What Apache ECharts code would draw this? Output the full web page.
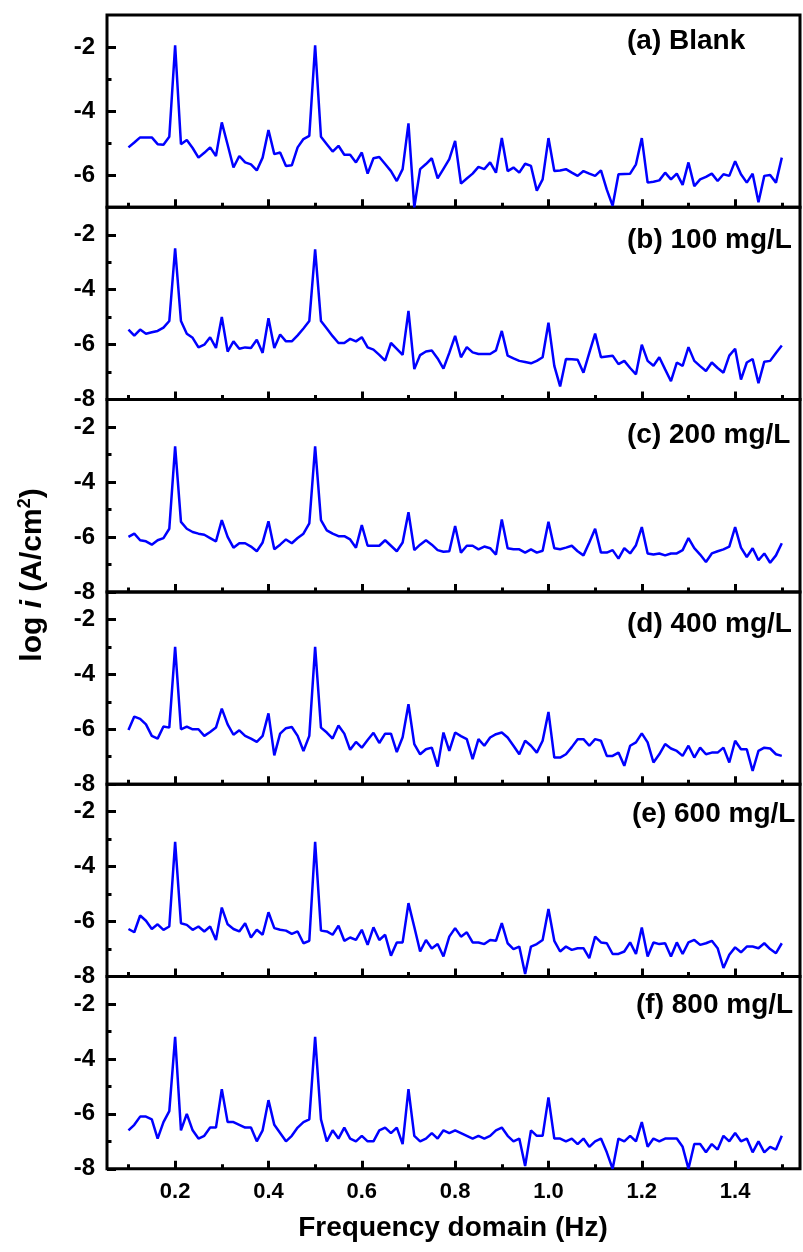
<!DOCTYPE html>
<html>
<head>
<meta charset="utf-8">
<script src="https://cdn.jsdelivr.net/npm/echarts@6/dist/echarts.min.js"></script>
<style>
  html, body { margin: 0; padding: 0; background: #fff; }
  #main { width: 803px; height: 1252px; }
</style>
</head>
<body>
<div id="main"></div>
<script>
// frequency grid of the spectra (Hz)
const freqStart = 0.1;
const freqStep = 0.0125;

// log i values, one array per panel (0.1 ... 1.5 Hz)
const valsBlank = [-5.13,-4.98,-4.82,-4.82,-4.82,-5.03,-5.05,-4.80,-1.95,-5.03,-4.90,-5.15,-5.45,-5.30,-5.13,-5.40,-4.35,-5.05,-5.76,-5.40,-5.60,-5.66,-5.85,-5.45,-4.59,-5.34,-5.29,-5.71,-5.69,-5.13,-4.87,-4.77,-1.95,-4.80,-5.03,-5.26,-5.08,-5.36,-5.36,-5.60,-5.29,-5.95,-5.47,-5.43,-5.65,-5.87,-6.18,-5.81,-4.38,-7.00,-5.81,-5.65,-5.47,-6.10,-5.80,-5.50,-4.93,-6.26,-6.10,-5.95,-5.74,-5.81,-5.60,-5.92,-4.84,-5.87,-5.76,-5.92,-5.64,-5.71,-6.48,-6.13,-4.84,-5.87,-5.85,-5.81,-5.92,-6.02,-5.87,-5.95,-6.02,-5.85,-6.45,-6.95,-5.97,-5.96,-5.95,-5.66,-4.84,-6.23,-6.20,-6.16,-5.92,-6.13,-5.95,-6.30,-5.60,-6.34,-6.13,-6.05,-5.95,-6.18,-5.97,-6.02,-5.56,-5.97,-6.23,-5.95,-6.84,-6.02,-5.99,-6.23,-5.45];
const vals100 = [-5.45,-5.67,-5.45,-5.60,-5.55,-5.50,-5.38,-5.14,-2.49,-5.14,-5.60,-5.75,-6.10,-6.00,-5.73,-6.12,-4.99,-6.25,-5.88,-6.15,-6.10,-6.12,-5.82,-6.30,-5.04,-6.12,-5.63,-5.88,-5.88,-5.66,-5.41,-5.14,-2.53,-5.14,-5.41,-5.69,-5.94,-5.94,-5.79,-5.88,-5.73,-6.10,-6.18,-6.37,-6.58,-5.94,-6.15,-6.37,-4.77,-6.89,-6.38,-6.25,-6.21,-6.50,-6.87,-6.30,-5.68,-6.46,-6.09,-6.28,-6.34,-6.34,-6.34,-6.21,-5.50,-6.40,-6.50,-6.59,-6.63,-6.68,-6.59,-6.46,-5.20,-6.77,-7.52,-6.52,-6.53,-6.55,-7.02,-6.30,-5.60,-6.46,-6.43,-6.40,-6.71,-6.59,-6.85,-7.08,-6.00,-6.59,-6.77,-6.46,-6.90,-7.33,-6.65,-6.77,-6.09,-6.59,-6.78,-6.96,-6.65,-6.85,-7.02,-6.40,-6.15,-7.27,-6.65,-6.52,-7.40,-6.62,-6.59,-6.30,-6.03];
const vals200 = [-6.00,-5.88,-6.12,-6.16,-6.28,-6.12,-6.04,-5.70,-2.70,-5.45,-5.70,-5.82,-5.88,-5.92,-6.04,-6.16,-5.39,-6.00,-6.39,-6.23,-6.23,-6.35,-6.52,-6.20,-5.43,-6.45,-6.28,-6.09,-6.23,-6.04,-5.88,-5.51,-2.70,-5.39,-5.76,-5.88,-5.97,-5.97,-6.09,-6.39,-5.57,-6.32,-6.32,-6.32,-6.12,-6.32,-6.52,-6.20,-5.10,-6.48,-6.28,-6.12,-6.28,-6.48,-6.54,-6.52,-5.60,-6.57,-6.32,-6.32,-6.45,-6.35,-6.41,-6.64,-5.36,-6.41,-6.45,-6.45,-6.57,-6.45,-6.57,-6.50,-5.45,-6.41,-6.45,-6.39,-6.32,-6.52,-6.67,-6.20,-5.70,-6.57,-6.57,-6.48,-6.79,-6.41,-6.60,-6.30,-5.64,-6.60,-6.64,-6.60,-6.67,-6.60,-6.60,-6.48,-6.04,-6.41,-6.64,-6.91,-6.60,-6.52,-6.45,-6.35,-5.64,-6.39,-6.73,-6.41,-6.85,-6.60,-6.94,-6.67,-6.23];
const vals400 = [-6.03,-5.54,-5.62,-5.82,-6.24,-6.34,-5.90,-5.94,-3.00,-6.00,-5.90,-6.00,-6.00,-6.24,-6.10,-5.94,-5.25,-5.82,-6.20,-6.04,-6.24,-6.34,-6.46,-6.24,-5.42,-6.95,-6.16,-5.96,-5.92,-6.24,-6.79,-6.24,-3.00,-5.94,-6.12,-6.34,-5.86,-6.16,-6.75,-6.46,-6.67,-6.39,-6.13,-6.50,-6.16,-6.16,-6.83,-6.29,-5.09,-6.54,-6.91,-6.73,-6.67,-7.36,-6.12,-6.79,-6.12,-6.25,-6.36,-7.09,-6.36,-6.60,-6.30,-6.18,-6.12,-6.30,-6.60,-6.91,-6.42,-6.60,-6.85,-6.42,-5.37,-7.03,-7.03,-6.91,-6.65,-6.36,-6.36,-6.60,-6.36,-6.42,-6.97,-6.97,-6.85,-7.33,-6.60,-6.48,-6.15,-6.48,-7.21,-6.91,-6.54,-6.70,-6.79,-6.97,-6.60,-7.03,-6.67,-6.91,-6.85,-6.85,-6.67,-7.21,-6.42,-6.73,-6.73,-7.52,-6.79,-6.67,-6.70,-6.91,-6.97];
const vals600 = [-6.27,-6.39,-5.78,-5.97,-6.27,-6.10,-6.30,-6.18,-3.10,-6.06,-6.12,-6.30,-6.18,-6.36,-6.18,-6.67,-5.49,-6.10,-6.27,-6.36,-6.06,-6.58,-6.30,-6.48,-5.66,-6.24,-6.30,-6.33,-6.45,-6.36,-6.79,-6.70,-3.10,-6.33,-6.36,-6.48,-6.15,-6.70,-6.58,-6.67,-6.30,-6.85,-6.21,-6.67,-6.48,-7.24,-6.76,-6.76,-5.33,-6.20,-7.09,-6.67,-6.98,-6.82,-7.27,-6.55,-6.24,-6.55,-6.39,-6.76,-6.76,-6.82,-6.67,-6.70,-6.06,-6.79,-7.00,-6.91,-7.91,-6.91,-6.82,-6.67,-5.54,-6.70,-7.09,-6.91,-7.03,-6.97,-6.97,-7.33,-6.55,-6.76,-6.79,-7.18,-7.18,-7.09,-6.76,-7.18,-6.22,-7.27,-6.76,-6.82,-6.79,-7.27,-6.76,-7.18,-6.76,-6.67,-6.85,-6.79,-6.70,-6.97,-7.69,-7.21,-6.94,-7.12,-6.91,-6.91,-6.97,-6.79,-7.00,-7.15,-6.79];
const vals800 = [-6.60,-6.40,-6.10,-6.10,-6.20,-6.90,-6.30,-5.90,-3.20,-6.60,-6.00,-6.60,-6.90,-6.80,-6.50,-6.50,-5.10,-6.30,-6.30,-6.40,-6.50,-6.50,-7.00,-6.60,-5.50,-6.40,-6.70,-7.00,-6.80,-6.50,-6.30,-6.20,-3.20,-6.20,-7.00,-6.60,-6.90,-6.50,-6.90,-7.00,-6.80,-7.00,-7.00,-6.60,-6.50,-6.70,-6.50,-7.10,-5.10,-6.80,-7.00,-6.90,-6.70,-6.90,-6.60,-6.70,-6.60,-6.70,-6.80,-6.90,-6.80,-6.90,-6.80,-6.60,-6.50,-6.80,-7.00,-6.90,-7.90,-6.60,-6.80,-6.80,-5.40,-6.90,-6.90,-7.00,-6.90,-7.10,-6.90,-7.20,-7.00,-6.90,-7.40,-8.00,-6.90,-7.00,-6.80,-7.00,-6.30,-7.20,-6.90,-7.00,-6.90,-6.90,-6.90,-7.20,-8.00,-7.10,-7.10,-7.40,-7.10,-7.30,-6.80,-7.00,-6.70,-7.00,-6.90,-7.40,-7.00,-7.40,-7.20,-7.30,-6.80];

const panelNames = ['(a) Blank', '(b) 100 mg/L', '(c) 200 mg/L', '(d) 400 mg/L', '(e) 600 mg/L', '(f) 800 mg/L'];
const panelVals = [valsBlank, vals100, vals200, vals400, vals600, vals800];
const panelMin = [-7, -8, -8, -8, -8, -8];
const xMajor = [0.2, 0.4, 0.6, 0.8, 1.0, 1.2, 1.4];
const xMinor = [0.1, 0.3, 0.5, 0.7, 0.9, 1.1, 1.3, 1.5];

const myChart = echarts.init(document.getElementById('main'));

const FONT = '"Liberation Sans", Arial, sans-serif';
const gridTop = 15, gridH = 192.3, gridLeft = 107, gridRight = 3;
const labelX = [627, 627, 627, 627, 632, 636];
const labelDy = [26.5, 33, 35.5, 32.7, 30.5, 28.5];

let grid = [], xAxis = [], yAxis = [], series = [], graphic = [];
panelVals.forEach((vals, k) => {
    const last = k === panelVals.length - 1;
    grid.push({
        left: gridLeft, right: gridRight, top: gridTop + k * gridH, height: gridH,
        show: true, borderColor: '#000', borderWidth: 3, backgroundColor: 'transparent'
    });
    const yMajor = panelMin[k] === -7 ? [-6, -4, -2] : [-8, -6, -4, -2];
    const yMinor = panelMin[k] === -7 ? [-5, -3] : [-7, -5, -3];
    // main axes
    xAxis.push({
        type: 'value', gridIndex: k, min: 0.054, max: 1.539, position: 'bottom',
        splitLine: { show: false }, axisLine: { show: false },
        axisTick: { show: true, inside: true, length: 8, customValues: xMajor, lineStyle: { color: '#000', width: 3 } },
        axisLabel: {
            show: last, customValues: xMajor, margin: 12,
            formatter: v => v.toFixed(1),
            fontFamily: FONT, fontWeight: 'bold', fontSize: 22, color: '#000'
        }
    });
    // minor ticks
    xAxis.push({
        type: 'value', gridIndex: k, min: 0.054, max: 1.539, position: 'bottom',
        splitLine: { show: false }, axisLine: { show: false }, axisLabel: { show: false },
        axisTick: { show: true, inside: true, length: 4.5, customValues: xMinor, lineStyle: { color: '#000', width: 3 } }
    });
    yAxis.push({
        type: 'value', gridIndex: k, min: panelMin[k], max: -1, position: 'left',
        splitLine: { show: false }, axisLine: { show: false },
        axisTick: { show: true, inside: true, length: 9, customValues: yMajor, lineStyle: { color: '#000', width: 3 } },
        axisLabel: {
            customValues: yMajor, margin: 12,
            fontFamily: FONT, fontWeight: 'bold', fontSize: 24, color: '#000'
        }
    });
    yAxis.push({
        type: 'value', gridIndex: k, min: panelMin[k], max: -1, position: 'left',
        splitLine: { show: false }, axisLine: { show: false }, axisLabel: { show: false },
        axisTick: { show: true, inside: true, length: 4.5, customValues: yMinor, lineStyle: { color: '#000', width: 3 } }
    });
    series.push({
        type: 'line', xAxisIndex: 2 * k, yAxisIndex: 2 * k,
        data: vals.map((v, i) => [+(freqStart + i * freqStep).toFixed(4), v]),
        showSymbol: false, symbol: 'none', smooth: false,
        lineStyle: { color: '#0000ff', width: 2.5 },
        clip: false
    });
    graphic.push({
        type: 'text', x: labelX[k], y: gridTop + k * gridH + labelDy[k],
        style: {
            text: panelNames[k], fill: '#000', font: 'bold 28px ' + FONT,
            align: 'left', verticalAlign: 'middle'
        }
    });
});

// y axis title, rotated
graphic.push({
    type: 'text', x: 33, y: 575, rotation: Math.PI / 2,
    style: {
        text: '{t|log }{it|i}{t| (A/cm}{sup|2}{t|)}',
        align: 'center', verticalAlign: 'middle',
        rich: {
            t: { fontFamily: FONT, fontWeight: 'bold', fontSize: 30, color: '#000', lineHeight: 34 },
            it: { fontFamily: FONT, fontWeight: 'bold', fontStyle: 'italic', fontSize: 30, color: '#000', lineHeight: 34 },
            sup: { fontFamily: FONT, fontWeight: 'bold', fontSize: 18, color: '#000', verticalAlign: 'top', lineHeight: 34 }
        }
    }
});
// x axis title
graphic.push({
    type: 'text', x: 453, y: 1228,
    style: {
        text: 'Frequency domain (Hz)', fill: '#000', font: 'bold 28px ' + FONT,
        align: 'center', verticalAlign: 'middle'
    }
});

myChart.setOption({
    backgroundColor: '#fff',
    animation: false,
    grid: grid,
    xAxis: xAxis,
    yAxis: yAxis,
    series: series,
    graphic: graphic
});
window.onresize = myChart.resize;
</script>
</body>
</html>
